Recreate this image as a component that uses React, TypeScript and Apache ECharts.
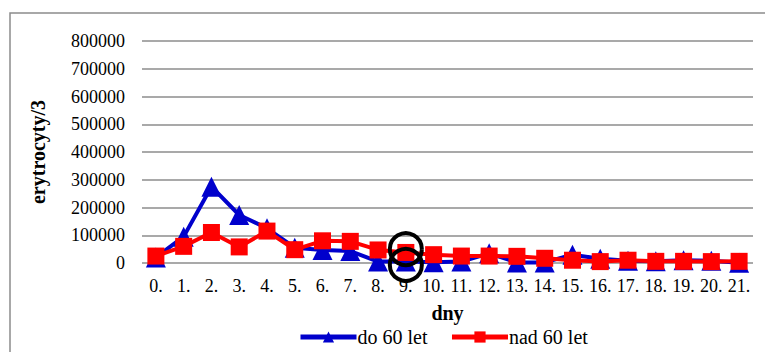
import React, { useEffect, useRef } from "react";
import * as echarts from "echarts";

// Days since the start of observation
const days = ["0.", "1.", "2.", "3.", "4.", "5.", "6.", "7.", "8.", "9.", "10.", "11.", "12.", "13.", "14.", "15.", "16.", "17.", "18.", "19.", "20.", "21."];

// Erythrocyte counts (per 3) by age group
const under60 = [20000, 95000, 275000, 173000, 125000, 55000, 47000, 43000, 5000, 5000, 3000, 5000, 35000, 2000, 2000, 30000, 15000, 8000, 6000, 10000, 8000, 1000];
const over60 = [25000, 60000, 110000, 58000, 115000, 48000, 80000, 78000, 47000, 38000, 30000, 25000, 25000, 24000, 17000, 10000, 5000, 10000, 6000, 6000, 5000, 6000];

// Highlighted points on day 9
const highlightDay = ["9.", "9."];
const highlightValues = [50000, -7000];

const SERIF = "Times New Roman, Liberation Serif, DejaVu Serif, serif";

export default function App() {
  const ref = useRef<HTMLDivElement>(null);

  useEffect(() => {
    if (!ref.current) return;
    const chart = echarts.init(ref.current, null, { renderer: "svg" });
    chart.setOption({
      animation: false,
      backgroundColor: "#ffffff",
      textStyle: { fontFamily: SERIF, color: "#000" },
      graphic: [
        {
          type: "rect",
          shape: { x: 10, y: 13, width: 800, height: 400 },
          style: { fill: "none", stroke: "#8c8c8c", lineWidth: 1.5 },
          silent: true,
          z: -1,
        },
      ],
      grid: { left: 142, right: 12, top: 41, bottom: 89 },
      legend: {
        data: ["do 60 let", "nad 60 let"],
        left: 293,
        top: 322,
        itemWidth: 56,
        itemHeight: 14,
        itemGap: 22,
        lineStyle: { width: 5 },
        textStyle: { fontFamily: SERIF, fontSize: 20, color: "#000", padding: [0, 0, 0, -4] },
      },
      xAxis: {
        type: "category",
        data: days,
        name: "dny",
        nameLocation: "middle",
        nameGap: 40,
        nameTextStyle: { fontFamily: SERIF, fontSize: 20, fontWeight: "bold", color: "#000" },
        axisLine: { show: false },
        axisTick: { show: false },
        axisLabel: { fontFamily: SERIF, fontSize: 18, color: "#000", margin: 14, interval: 0 },
      },
      yAxis: {
        type: "value",
        min: 0,
        max: 800000,
        interval: 100000,
        name: "erytrocyty/3",
        nameLocation: "middle",
        nameGap: 94,
        nameTextStyle: { fontFamily: SERIF, fontSize: 20, fontWeight: "bold", color: "#000" },
        axisLine: { show: false },
        axisTick: { show: false },
        axisLabel: {
          fontFamily: SERIF,
          fontSize: 18,
          color: "#000",
          margin: 17,
          formatter: (v: number) => String(v),
        },
        splitLine: { lineStyle: { color: "#8c8c8c", width: 1.5 } },
      },
      series: [
        {
          name: "do 60 let",
          type: "line",
          data: under60,
          symbol: "triangle",
          symbolSize: 20,
          lineStyle: { color: "#0000cc", width: 4 },
          itemStyle: { color: "#0000cc" },
          z: 2,
        },
        {
          name: "nad 60 let",
          type: "line",
          data: over60,
          symbol: "rect",
          symbolSize: 17,
          lineStyle: { color: "#ff0000", width: 4 },
          itemStyle: { color: "#ff0000" },
          z: 3,
        },
        {
          name: "highlight",
          type: "scatter",
          data: highlightDay.map((d, i) => [d, highlightValues[i]]),
          symbol: "circle",
          symbolSize: 32,
          clip: false,
          itemStyle: { color: "rgba(0,0,0,0)", borderColor: "#000", borderWidth: 4, opacity: 1 },
          z: 5,
        },
      ],
    });
    return () => chart.dispose();
  }, []);

  return (
    <div
      ref={ref}
      style={{ position: "fixed", left: 0, top: 0, width: 765, height: 352 }}
    />
  );
}
